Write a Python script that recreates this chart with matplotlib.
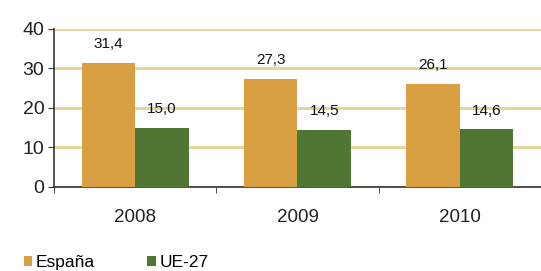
import matplotlib
matplotlib.use("Agg")
import matplotlib.pyplot as plt
import numpy as np

years = ["2008", "2009", "2010"]
espana = [31.4, 27.3, 26.1]
ue27 = [15.0, 14.5, 14.6]
series_names = ["España", "UE-27"]
yticks = [0, 10, 20, 30, 40]

plt.rcParams['font.family'] = ['Liberation Sans', 'DejaVu Sans']

fig = plt.figure(figsize=(5.41, 2.71), dpi=100)
ax = fig.add_axes([0.0998, 0.31, 0.9002, 0.583])

x = np.arange(len(years))
w = 0.33
c_es = "#D9A043"
c_ue = "#4F7633"
b1 = ax.bar(x - w/2, espana, w, color=c_es, zorder=3, label=series_names[0])
b2 = ax.bar(x + w/2, ue27, w, color=c_ue, zorder=3, label=series_names[1])

for rects, vals in ((b1, espana), (b2, ue27)):
    for r, v in zip(rects, vals):
        ax.annotate(f"{v:.1f}".replace(".", ","), (r.get_x() + r.get_width()/2, v),
                    xytext=(0, 8.5), textcoords="offset points", ha="center", va="bottom",
                    fontsize=11, color="#111111")

ax.set_xlim(-0.5, len(years) - 0.5)
ax.set_ylim(0, 40)
ax.set_yticks(yticks)
ax.set_yticklabels([str(t) for t in yticks], fontsize=14, color="#222222")
ax.yaxis.grid(True, color="#E3D89A", linewidth=2.2, zorder=0)
ax.set_axisbelow(True)

ax.set_xticks(x)
ax.set_xticklabels(years, fontsize=13.5, color="#222222")
ax.set_xticks(np.arange(len(years) + 1) - 0.5, minor=True)
ax.tick_params(axis="x", which="major", length=0, pad=16)
ax.tick_params(axis="x", which="minor", length=4, direction="out", color="#333333")
ax.tick_params(axis="y", length=4, direction="out", color="#333333", pad=3)

for s in ["top", "right"]:
    ax.spines[s].set_visible(False)
for s in ["left", "bottom"]:
    ax.spines[s].set_color("#333333")
    ax.spines[s].set_linewidth(1.2)

leg = fig.legend(handles=[b1, b2], labels=series_names, loc="lower left",
                 bbox_to_anchor=(0.015, -0.055), ncol=2, frameon=False, fontsize=12.5,
                 handlelength=0.5, handleheight=0.5, handletextpad=0.2, columnspacing=3.0)

fig.savefig("out.png", dpi=100)
